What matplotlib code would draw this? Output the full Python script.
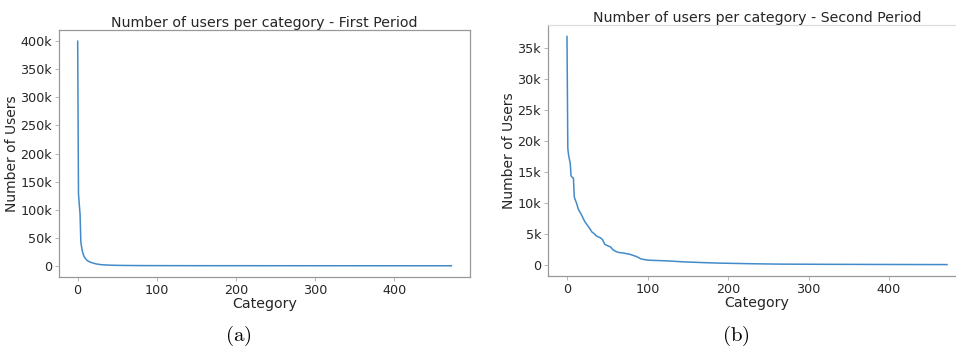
import matplotlib
matplotlib.use('Agg')
import matplotlib.pyplot as plt
from matplotlib.ticker import FuncFormatter

# ── Data (category rank -> users) ──
first_idx = [0, 1, 2, 3, 4, 5, 6, 7, 8, 9, 10, 12, 14, 16, 18, 20, 23, 26, 30,
             35, 40, 50, 60, 80, 100, 150, 200, 300, 400, 472]
first_users = [400000, 128000, 110000, 92000, 42000, 33000, 25500, 20500, 17000,
               14500, 12500, 9500, 7800, 6500, 5500, 4700, 3500, 2700, 2000,
               1500, 1150, 800, 600, 400, 300, 200, 150, 100, 70, 50]

second_idx = [0, 1, 2, 4, 5, 6, 8, 9, 10, 12, 14, 17, 19, 22, 25, 28, 31, 34,
              37, 41, 44, 47, 51, 54, 57, 60, 64, 70, 78, 86, 92, 96, 101, 110,
              124, 144, 170, 190, 230, 265, 320, 380, 430, 472]
second_users = [36900, 18800, 17700, 16400, 14400, 14200, 14000, 11000, 10600,
                9900, 9000, 8300, 7800, 7000, 6450, 5900, 5300, 5000, 4600,
                4400, 4100, 3300, 3050, 2900, 2450, 2200, 2000, 1900, 1700, 1350,
                950, 850, 750, 700, 640, 480, 350, 270, 170, 110, 80, 60, 45, 35]

titles = ['Number of users per category - First Period',
          'Number of users per category - Second Period']
captions = ['(a)', '(b)']

LINE = '#428bca'
TXT = '#262626'
plt.rcParams['mathtext.fontset'] = 'cm'


def kfmt(v, pos):
    return '0' if v == 0 else f'{v / 1000:.0f}k'


fig = plt.figure(figsize=(9.56, 3.47), dpi=100)
ax1 = fig.add_axes([59 / 956, 70 / 347, 411 / 956, 247 / 347])
ax2 = fig.add_axes([548 / 956, 71 / 347, 418 / 956, 251 / 347])

for ax, x, y, title, ticks in [(ax1, first_idx, first_users, titles[0], range(0, 400001, 50000)),
                               (ax2, second_idx, second_users, titles[1], range(0, 35001, 5000))]:
    ax.plot(x, y, color=LINE, lw=1.1)
    ax.set_yticks(list(ticks))
    ax.set_xticks([0, 100, 200, 300, 400])
    ax.yaxis.set_major_formatter(FuncFormatter(kfmt))
    ax.set_title(title, fontsize=10.2, color=TXT, pad=2)
    ax.set_xlabel('Category', fontsize=10.2, color=TXT, labelpad=0)
    ax.set_ylabel('Number of Users', fontsize=10, color=TXT, labelpad=1)
    ax.tick_params(labelsize=9.2, colors='#aaaaaa', labelcolor=TXT, length=3, width=0.6, pad=2)
    for s in ax.spines.values():
        s.set_color('#999999')
        s.set_linewidth(0.9)

ax2.spines['top'].set_color('#dddddd')
ax2.spines['right'].set_visible(False)

fig.text(238 / 956, 1 - 336 / 347, '$\\mathrm{' + captions[0] + '}$', fontsize=15,
         ha='center', va='center', color='black')
fig.text(736 / 956, 1 - 336 / 347, '$\\mathrm{' + captions[1] + '}$', fontsize=15,
         ha='center', va='center', color='black')

plt.savefig('out.png', dpi=100)
